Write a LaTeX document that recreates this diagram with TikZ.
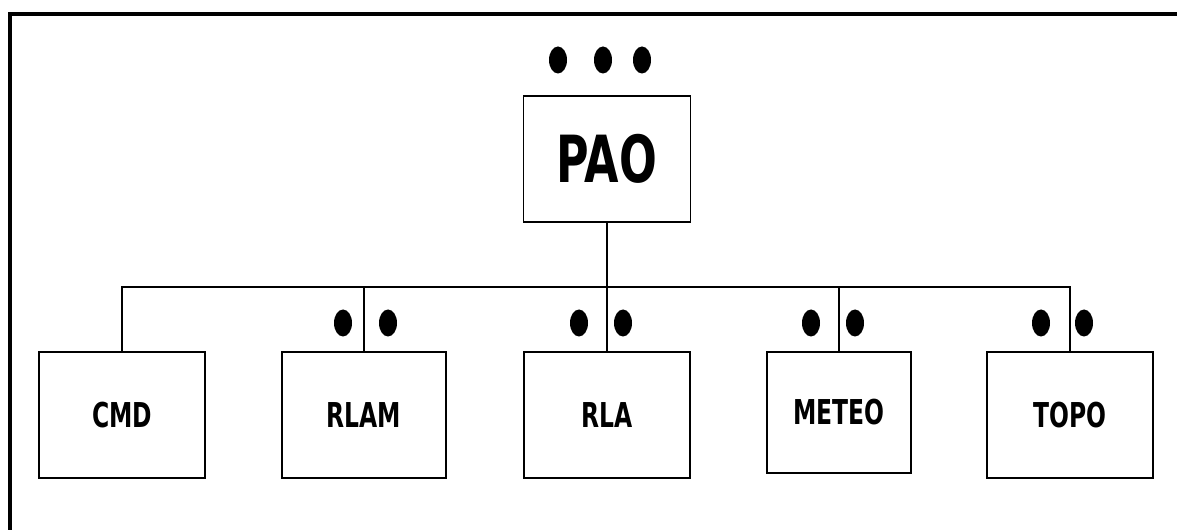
\documentclass[tikz,border=0pt]{standalone}
\usepackage{fontspec}
\setmainfont[FakeStretch=0.76]{DejaVu Sans Condensed}
\usepackage{tikz}
\usetikzlibrary{positioning}

\begin{document}
\begin{tikzpicture}[x=0.02cm, y=-0.02cm,
      unit/.style={draw, line width=1.1pt, inner sep=0pt, minimum width=3.32cm,
                   minimum height=2.52cm, font=\bfseries\fontsize{19.5}{21}\selectfont},
      link/.style={line width=1.1pt},
      dot/.style={fill=black}
    ]
      \useasboundingbox (0,0) rectangle (1177,530);
      % outer frame
      \draw[line width=2.3pt] (10,14) rectangle (1200,560);

      \node[unit, minimum width=3.34cm, font=\bfseries\fontsize{37}{40}\selectfont] (pao) at (607,159) {PAO};
      \node[unit] (cmd) at (122,415) {CMD};
      \node[unit, minimum width=3.28cm] (rlam) at (364,415) {RLAM};
      \node[unit] (rla) at (607,415) {RLA};
      \node[unit, minimum width=2.88cm, minimum height=2.42cm] (meteo) at (839,412.5) {METEO};
      \node[unit] (topo) at (1070,415) {TOPO};

      % bus
      \coordinate (bus) at (607,287);
      \draw[link] (pao.south) -- (bus);
      \draw[link] (cmd.north) |- (bus) -| (topo.north);
      \foreach \n in {rlam,rla,meteo}
        \draw[link] (\n.north) -- (\n.north |- bus);

      % dots
      \foreach \x in {558,603,642}
        \fill[dot] (\x,60) ellipse (9 and 13.5);
      \foreach \x in {343,388,579,623,811,855,1041,1084}
        \fill[dot] (\x,323) ellipse (9 and 13.5);
    \end{tikzpicture}
\end{document}
